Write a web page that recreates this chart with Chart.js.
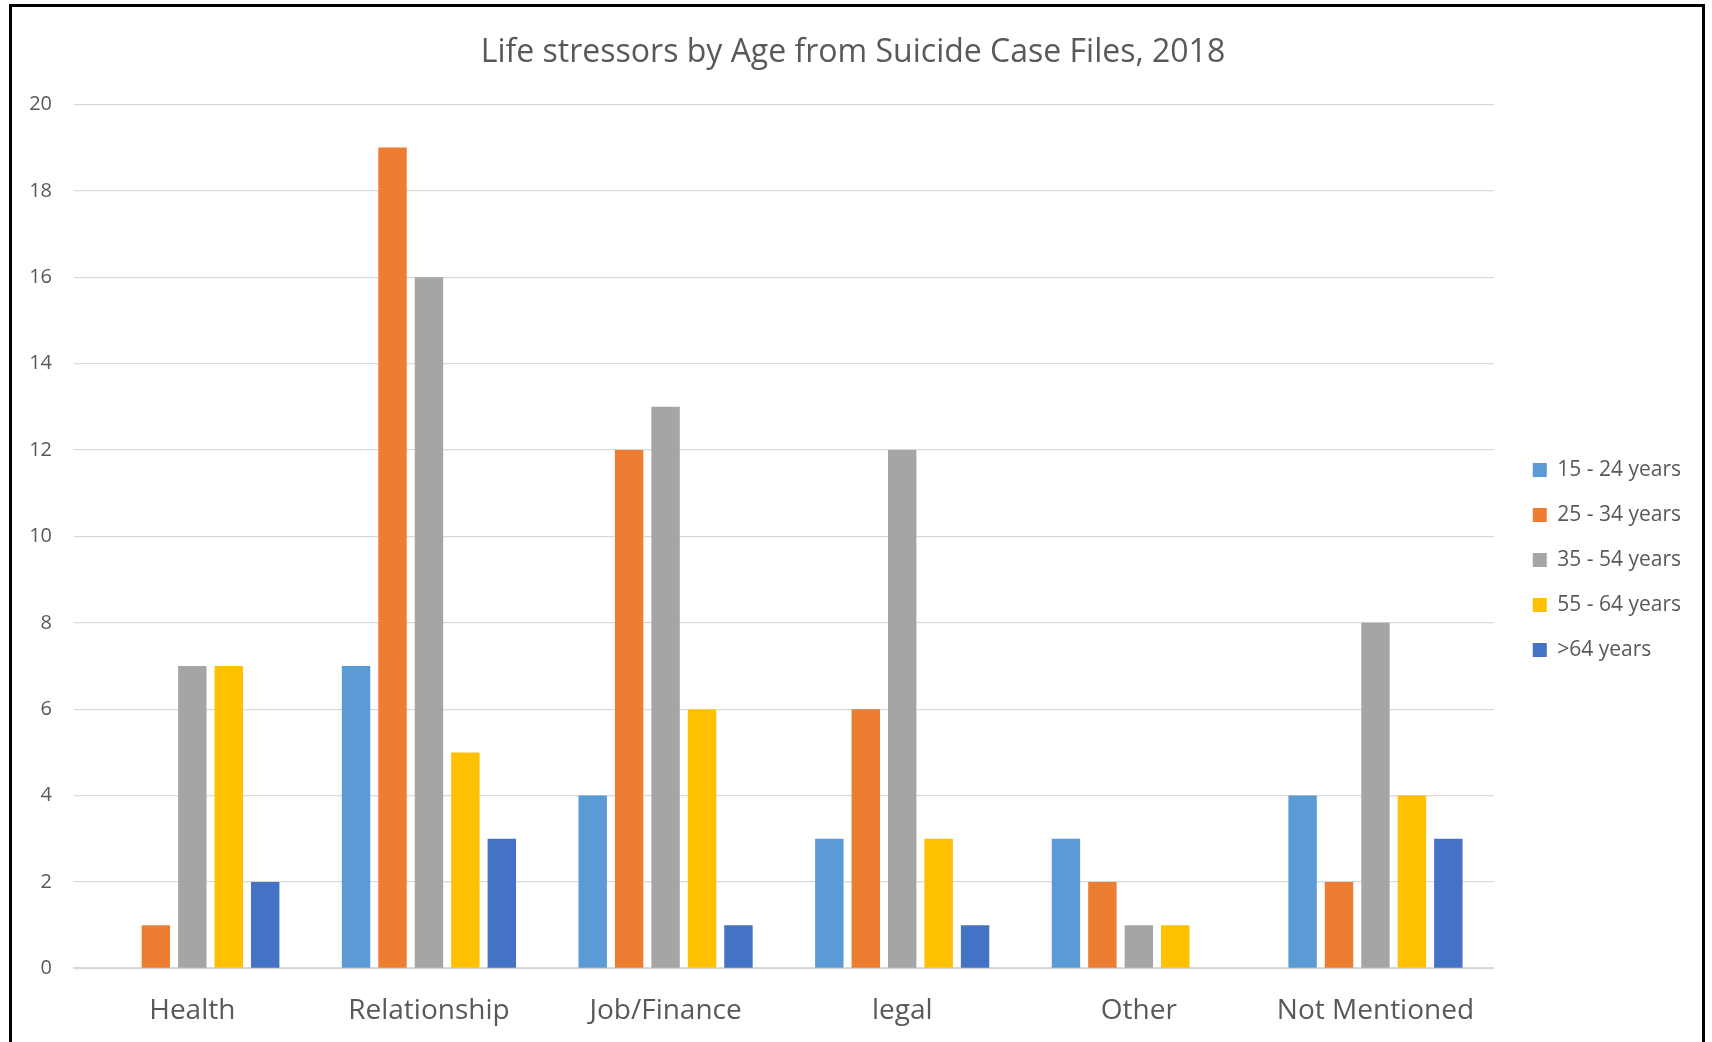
<!DOCTYPE html>
<html>
<head>
<meta charset="utf-8">
<title>Life stressors by Age</title>
<script src="https://cdn.jsdelivr.net/npm/chart.js@4/dist/chart.umd.min.js"></script>
<style>
  html, body { margin: 0; padding: 0; background: #fff; overflow: hidden; }
  #myChart { display: block; }
</style>
</head>
<body>
<canvas id="myChart" width="1712" height="1042"></canvas>
<script>
// stressor categories and counts per age group
var categories = ['Health', 'Relationship', 'Job/Finance', 'legal', 'Other', 'Not Mentioned'];
var ageGroups = ['15 - 24 years', '25 - 34 years', '35 - 54 years', '55 - 64 years', '>64 years'];
var age15to24 = [0, 7, 4, 3, 3, 4];
var age25to34 = [1, 19, 12, 6, 2, 2];
var age35to54 = [7, 16, 13, 12, 1, 8];
var age55to64 = [7, 5, 6, 3, 1, 4];
var age65plus = [2, 3, 1, 1, 0, 3];
var yTicks = [0, 2, 4, 6, 8, 10, 12, 14, 16, 18, 20];

var seriesValues = [age15to24, age25to34, age35to54, age55to64, age65plus];
var colors = ['#5B9BD5', '#ED7D31', '#A5A5A5', '#FFC000', '#4472C4'];
var textColor = '#595959';
var fontFamily = "'Open Sans', 'DejaVu Sans', sans-serif";

var datasets = [];
for (var i = 0; i < ageGroups.length; i++) {
    datasets.push({
        label: ageGroups[i],
        data: seriesValues[i],
        backgroundColor: colors[i],
        borderWidth: 0,
        categoryPercentage: 0.77,
        barPercentage: 0.78
    });
}

// white page plus the black frame around the chart
var framePlugin = {
    id: 'frame',
    beforeDraw: function(chart) {
        var c = chart.ctx;
        c.save();
        c.fillStyle = '#ffffff';
        c.fillRect(0, 0, chart.width, chart.height);
        c.strokeStyle = '#000000';
        c.lineWidth = 3;
        c.strokeRect(10.5, 5.5, 1693, 1060);
        c.restore();
    }
};

var ctx = document.getElementById('myChart');
var myChart = new Chart(ctx, {
    type: 'bar',
    data: {
        labels: categories,
        datasets: datasets
    },
    options: {
        responsive: false,
        animation: false,
        devicePixelRatio: 1,
        layout: {
            padding: { left: 15, right: 21, top: 0, bottom: 0 }
        },
        plugins: {
            title: {
                display: true,
                text: 'Life stressors by Age from Suicide Case Files, 2018',
                color: textColor,
                font: { family: fontFamily, size: 32, weight: 'normal' },
                padding: { top: 34, bottom: 32 }
            },
            legend: {
                position: 'right',
                align: 'center',
                // empty title only pushes the items down a bit
                title: {
                    display: true,
                    text: '',
                    font: { family: fontFamily, size: 20 },
                    padding: { top: 54, bottom: 0 }
                },
                labels: {
                    color: textColor,
                    font: { family: fontFamily, size: 21 },
                    boxWidth: 14,
                    boxHeight: 14,
                    padding: 24
                }
            },
            tooltip: { enabled: false }
        },
        scales: {
            x: {
                grid: { display: false, tickLength: 12 },
                border: { display: true, color: '#D9D9D9', width: 2 },
                ticks: {
                    color: textColor,
                    font: { family: fontFamily, size: 28 },
                    padding: 14
                }
            },
            y: {
                min: 0,
                max: 20,
                afterFit: function(scale) { scale.width = 59; },
                afterBuildTicks: function(scale) {
                    scale.ticks = yTicks.map(function(v) { return { value: v }; });
                },
                grid: { color: '#D9D9D9', lineWidth: 1.3, drawTicks: false },
                border: { display: false },
                ticks: {
                    color: textColor,
                    font: { family: fontFamily, size: 20 },
                    padding: 22
                }
            },
            spacer: {
                position: 'right',
                display: true,
                grid: { display: false },
                border: { display: false },
                ticks: { display: false },
                afterFit: function(scale) { scale.width = 15; }
            }
        }
    },
    plugins: [framePlugin]
});
</script>
</body>
</html>
